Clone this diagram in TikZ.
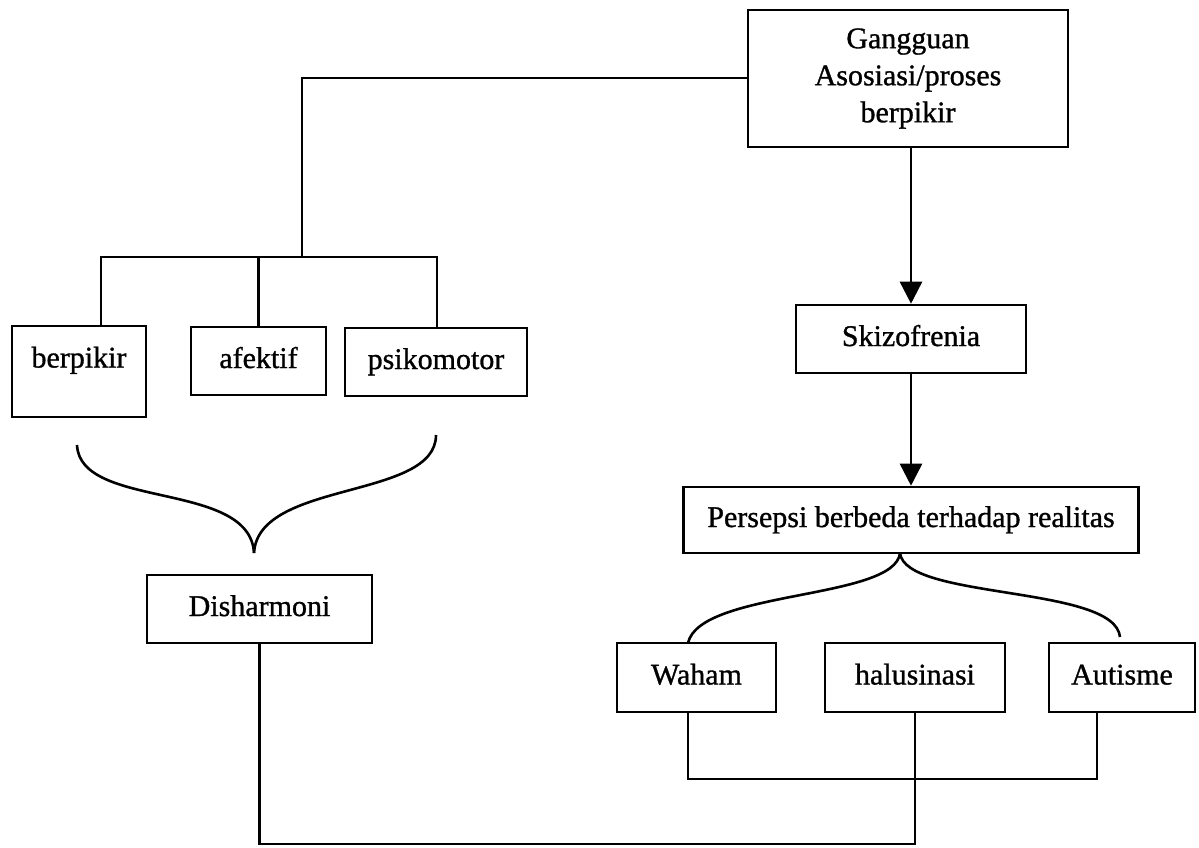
\documentclass[tikz,border=0pt]{standalone}
\usepackage{fontspec}
\setmainfont{Liberation Serif}[FakeBold=1]
\usetikzlibrary{arrows.meta}
\begin{document}
\begin{tikzpicture}[x=1pt,y=-1pt,
  box/.style={draw=black, line width=2.6pt, inner sep=0pt, align=center,
    font=\fontsize{30}{37}\selectfont, text height=21pt, text depth=7pt},
  conn/.style={draw=black, line width=2.6pt},
  arr/.style={conn, -{Triangle[width=22pt,length=22pt]}}]
\useasboundingbox (0,0) rectangle (1199,847);
\fill[white] (0,0) rectangle (1199,847);
% nodes
\node[box, minimum width=320pt, minimum height=137pt, text height=, text depth=] (gang) at (908,78.5) {Gangguan\\Asosiasi/proses\\berpikir};
\node[box, minimum width=230pt, minimum height=68pt] (skizo) at (911,339) {Skizofrenia};
\node[box, minimum width=455pt, minimum height=66pt] (pers) at (911,520) {Persepsi berbeda terhadap realitas};
\node[box, minimum width=159pt, minimum height=69pt] (waham) at (696.5,677.5) {Waham};
\node[box, minimum width=180pt, minimum height=69pt] (halu) at (915,677.5) {halusinasi};
\node[box, minimum width=146pt, minimum height=69pt] (autis) at (1122,677.5) {Autisme};
\node[box, minimum width=134pt, minimum height=91pt, text depth=29pt] (berp) at (79,371.5) {berpikir};
\node[box, minimum width=135pt, minimum height=68pt] (afek) at (258.5,361) {afektif};
\node[box, minimum width=182pt, minimum height=68pt] (psik) at (436,362) {psikomotor};
\node[box, minimum width=225pt, minimum height=68pt] (dish) at (259.5,609) {Disharmoni};
% coordinates
\coordinate (tl) at (302,78);
\coordinate (j1) at (302,257);
\coordinate (bL) at (101,257);
\coordinate (bR) at (437,257);
\coordinate (bM) at (258.5,257);
\coordinate (braL) at (77,445);
\coordinate (cusp) at (254,553);
\coordinate (braR) at (436,435);
\coordinate (ptop) at (900,553);
\coordinate (wtop) at (688,643);
\coordinate (atop) at (1120,637);
\coordinate (wl) at (688,779);
\coordinate (wr) at (1097,779);
\coordinate (hb) at (915,844);
% connectors
\draw[conn] (gang.west |- tl) -- (tl) -- (j1);
\draw[conn] (berp.north -| bL) -- (bL) -- (bR) -- (psik.north -| bR);
\draw[conn] (bM) -- (afek.north);
\draw[arr] (skizo.north |- gang.south) -- (skizo.north);
\draw[arr] (skizo.south) -- (pers.north);
\draw[conn] (braL) .. controls (80,510) and (250,480) .. (cusp);
\draw[conn] (cusp) .. controls (258,480) and (436,500) .. (braR);
\draw[conn] (ptop) .. controls (895,600) and (700,590) .. (wtop);
\draw[conn] (ptop) .. controls (905,600) and (1115,585) .. (atop);
\draw[conn] (waham.south -| wl) -- (wl) -- (wr) -- (autis.south -| wr);
\draw[conn] (dish.south) -- (dish.south |- hb) -- (hb) -- (halu.south);
\end{tikzpicture}
\end{document}
